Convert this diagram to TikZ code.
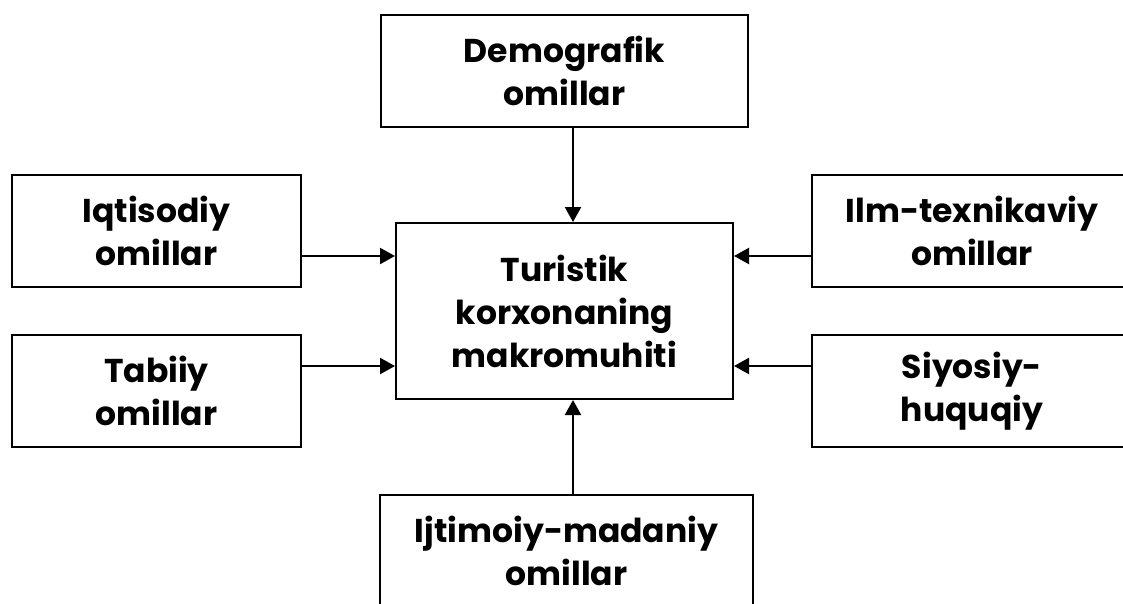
\documentclass[tikz,border=0pt]{standalone}
\usepackage{fontspec}
\setmainfont{Poppins}
\usepackage{tikz}
\usetikzlibrary{arrows.meta}
\usetikzlibrary{positioning}
\usetikzlibrary{calc}

\begin{document}
\begin{tikzpicture}[x=1pt,y=-1pt,
  factor/.style={draw,line width=2pt,align=center,inner sep=0pt,
    font=\fontsize{33}{43}\selectfont\bfseries,minimum height=112pt},
  link/.style={line width=2.2pt,-{Triangle[length=15pt,width=16pt]}}]
            \clip (0,0) rectangle (1123,603);
            % the core box
            \node[factor,minimum width=337pt,minimum height=176pt] (core) at (564.5,311) {Turistik\\korxonaning\\makromuhiti};
            % the factors round it
            \node[factor,minimum width=367pt] (demo) at (564.5,71) {Demografik\\omillar};
            \node[factor,minimum width=289pt] (iqt) at (156.5,231) {Iqtisodiy\\omillar};
            \node[factor,minimum width=289pt] (tab) at (156.5,391) {Tabiiy\\omillar};
            \node[factor,minimum width=320pt] (ilm) at (972,231) {Ilm-texnikaviy\\omillar};
            \node[factor,minimum width=320pt] (siy) at (972,391) {Siyosiy-\\huquqiy};
            \node[factor,minimum width=373pt] (ijt) at (566.5,551) {Ijtimoiy-madaniy\\omillar};
            % arrows into the core
            \draw[link] ([xshift=8.5pt]demo.south) -- ([xshift=8.5pt]demo.south |- core.north);
            \draw[link] ([xshift=6.5pt]ijt.north) -- ([xshift=6.5pt]ijt.north |- core.south);
            \draw[link] ([yshift=-25pt]iqt.east) -- ([yshift=-25pt]iqt.east -| core.west);
            \draw[link] ([yshift=25pt]tab.east) -- ([yshift=25pt]tab.east -| core.west);
            \draw[link] ([yshift=-25pt]ilm.west) -- ([yshift=-25pt]ilm.west -| core.east);
            \draw[link] ([yshift=25pt]siy.west) -- ([yshift=25pt]siy.west -| core.east);
          \end{tikzpicture}
\end{document}
